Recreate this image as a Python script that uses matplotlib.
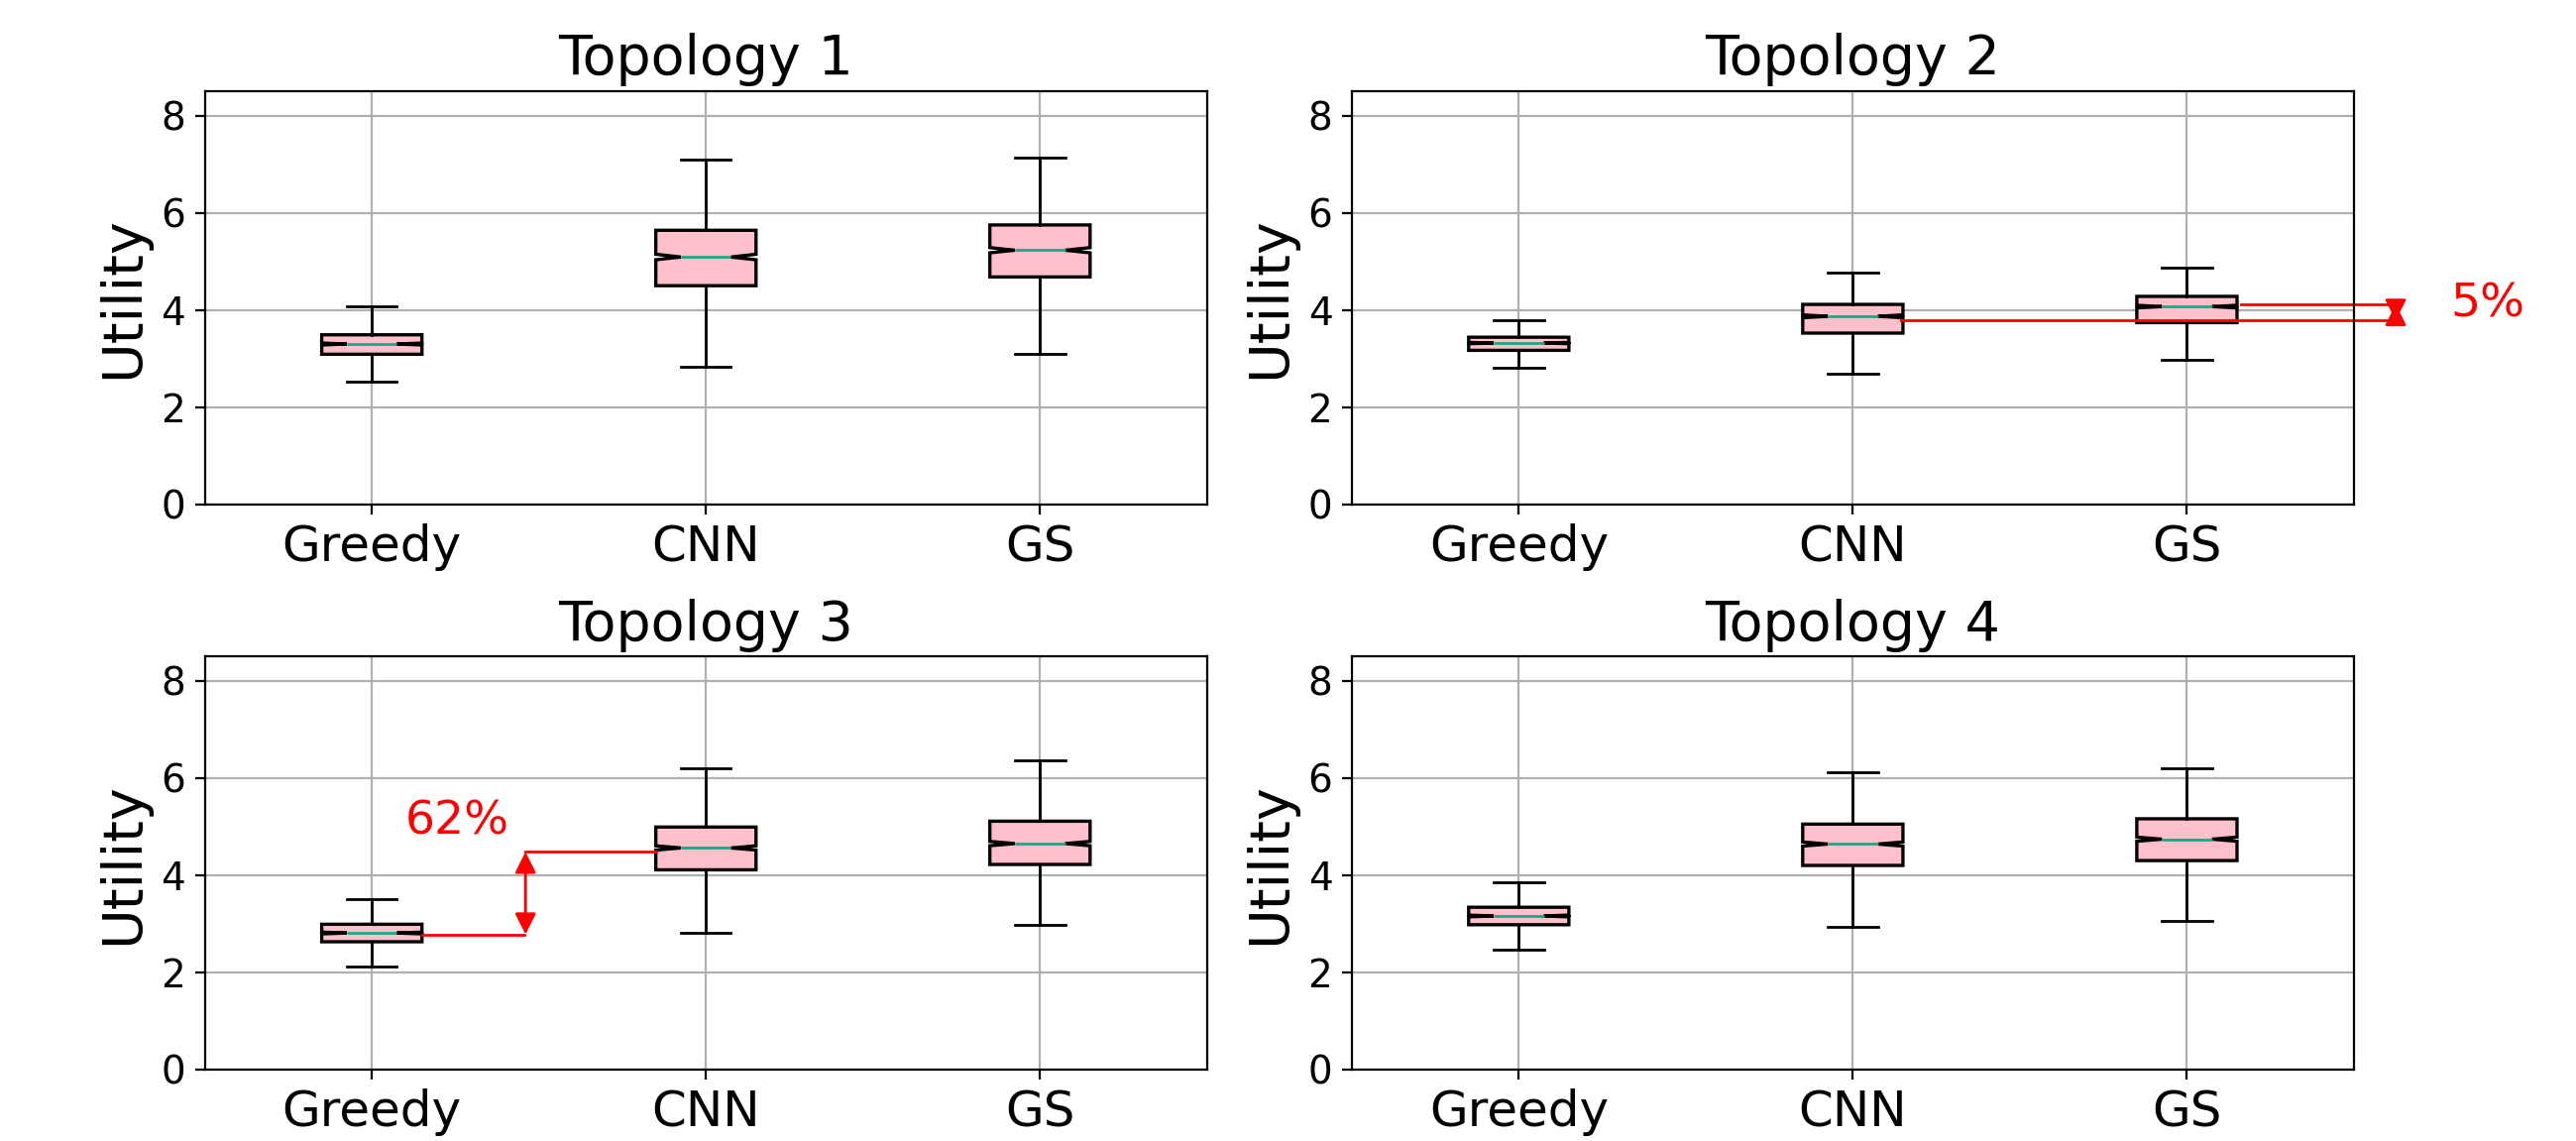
import matplotlib

matplotlib.use("Agg")

import numpy as np  # noqa: E402
import matplotlib.pyplot as plt  # noqa: E402

methods = ["Greedy", "CNN", "GS"]
titles = ["Topology 1", "Topology 2", "Topology 3", "Topology 4"]

# per topology, per method (Greedy, CNN, GS)
whis_lo = [[2.52, 2.84, 3.09], [2.81, 2.68, 2.98], [2.11, 2.82, 2.97], [2.47, 2.94, 3.06]]
q1 = [[3.09, 4.50, 4.68], [3.17, 3.525, 3.74], [2.63, 4.11, 4.22], [2.98, 4.20, 4.30]]
med = [[3.30, 5.09, 5.23], [3.32, 3.87, 4.07], [2.81, 4.56, 4.65], [3.16, 4.64, 4.74]]
q3 = [[3.49, 5.64, 5.75], [3.44, 4.115, 4.28], [2.99, 4.99, 5.11], [3.34, 5.05, 5.16]]
whis_hi = [[4.08, 7.10, 7.13], [3.78, 4.77, 4.87], [3.50, 6.20, 6.37], [3.85, 6.12, 6.20]]
n_samples = 1000

# gap annotations: lower level, upper level
gap_t2 = [3.78, 4.12]
gap_t3 = [2.78, 4.48]
label_t2 = "5%"
label_t3 = "62%"

MEDIAN_COLOR = "#1aa886"
RED = "#ff0000"


def box_stats(t):
    stats = []
    for j, name in enumerate(methods):
        half = 1.57 * (q3[t][j] - q1[t][j]) / np.sqrt(n_samples)
        stats.append(
            dict(
                label=name,
                whislo=whis_lo[t][j],
                q1=q1[t][j],
                med=med[t][j],
                q3=q3[t][j],
                whishi=whis_hi[t][j],
                cilo=med[t][j] - half,
                cihi=med[t][j] + half,
                fliers=[],
            )
        )
    return stats


def gap_arrow(ax, x, lo, hi):
    ax.annotate(
        "",
        xy=(x, hi),
        xytext=(x, lo),
        arrowprops=dict(arrowstyle="<|-|>", color=RED, lw=1.0, mutation_scale=16, shrinkA=0, shrinkB=0),
        annotation_clip=False,
    )


fig, axes = plt.subplots(2, 2, figsize=(12.995, 5.755), dpi=200)
fig.subplots_adjust(left=0.0795, right=0.9138, top=0.920, bottom=0.0626, wspace=0.1444, hspace=0.368)

for t, ax in enumerate(axes.flat):
    ax.bxp(
        box_stats(t),
        shownotches=True,
        showfliers=False,
        patch_artist=True,
        boxprops=dict(facecolor="pink", edgecolor="black", linewidth=1.2),
        medianprops=dict(color=MEDIAN_COLOR, linewidth=1.0),
        whiskerprops=dict(color="black", linewidth=1.0),
        capprops=dict(color="black", linewidth=1.0),
    )
    ax.set_ylim(0, 8.5)
    ax.set_xlim(0.5, 3.5)
    ax.set_yticks([0, 2, 4, 6, 8])
    ax.grid(True, color="#b0b0b0", linewidth=0.8)
    ax.set_axisbelow(True)
    ax.set_title(titles[t], fontsize=20)
    ax.set_ylabel("Utility", fontsize=20)
    ax.tick_params(axis="x", labelsize=18)
    ax.tick_params(axis="y", labelsize=14)
    for spine in ax.spines.values():
        spine.set_linewidth(0.8)

# Topology 2: GS vs CNN
ax = axes[0, 1]
ax.plot([2.145, 3.64], [gap_t2[0]] * 2, color=RED, lw=1.0, clip_on=False)
ax.plot([3.162, 3.64], [gap_t2[1]] * 2, color=RED, lw=1.0, clip_on=False)
gap_arrow(ax, 3.625, gap_t2[0], gap_t2[1])
ax.text(3.90, 4.12, label_t2, color=RED, fontsize=17, ha="center", va="center", clip_on=False)

# Topology 3: CNN vs Greedy
ax = axes[1, 0]
ax.plot([1.15, 1.455], [gap_t3[0]] * 2, color=RED, lw=1.0)
ax.plot([1.46, 1.85], [gap_t3[1]] * 2, color=RED, lw=1.0)
gap_arrow(ax, 1.46, gap_t3[0], gap_t3[1])
ax.text(1.255, 5.1, label_t3, color=RED, fontsize=17, ha="center", va="center")

fig.savefig("out.png", dpi=200)
plt.close(fig)
